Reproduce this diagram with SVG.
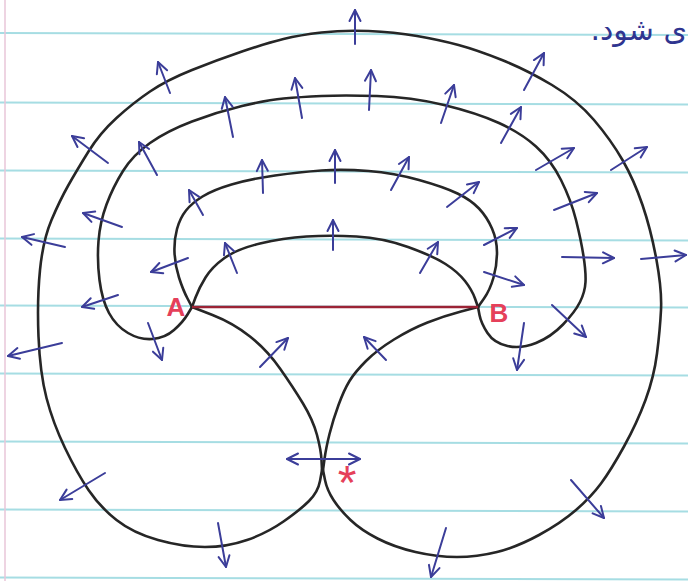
<svg xmlns="http://www.w3.org/2000/svg" width="688" height="581" viewBox="0 0 688 581">
<style>
.paper{stroke:#a6dde3;stroke-width:2;fill:none}
.curve{fill:none;stroke:#262626;stroke-width:2.6;stroke-linecap:round;stroke-linejoin:round}
.arr{fill:none;stroke:#3b3d99;stroke-width:2;stroke-linecap:round;marker-end:url(#ah)}
.lbl{font-family:"Liberation Sans",Arial,sans-serif;fill:#e5405a;font-weight:bold}
</style>
<defs>
<marker id="ah" viewBox="-12 -8 14 16" refX="0" refY="0" markerWidth="14" markerHeight="16" markerUnits="userSpaceOnUse" orient="auto-start-reverse" overflow="visible">
<path d="M-11,-5.5 L0,0 L-11,5.5" fill="none" stroke="#3b3d99" stroke-width="2" stroke-linecap="round" stroke-linejoin="round"/>
</marker>
</defs>
<rect width="688" height="581" fill="#ffffff"/>
<g id="paper">
<line class="paper" x1="0" y1="33" x2="688" y2="35"/>
<line class="paper" x1="0" y1="102.5" x2="688" y2="104.5"/>
<line class="paper" x1="0" y1="170.5" x2="688" y2="172.5"/>
<line class="paper" x1="0" y1="238.5" x2="688" y2="240.5"/>
<line class="paper" x1="0" y1="305.5" x2="688" y2="307.5"/>
<line class="paper" x1="0" y1="373.5" x2="688" y2="375.5"/>
<line class="paper" x1="0" y1="441.5" x2="688" y2="443.5"/>
<line class="paper" x1="0" y1="509.5" x2="688" y2="511.5"/>
<line class="paper" x1="0" y1="577.5" x2="688" y2="579.5"/>
<line x1="5" y1="0" x2="5" y2="581" stroke="#e8c6d8" stroke-width="1.5"/>
</g>
<g id="curves">
<path id="outer" class="curve" d="M322,470 L320,481 Q318,492 309,501 Q300,510 283.5,521.5 Q267,533 247,540 Q227,547 205,547 Q183,547 158,540 Q133,533 116.5,520 Q100,507 88.5,490 Q77,473 65,448 Q53,423 46.5,398 Q40,373 38.5,336.5 Q37,300 40,270 Q43,240 51.5,220 Q60,200 68.5,185 Q77,170 88.5,151.5 Q100,133 116.5,118 Q133,103 150,91.5 Q167,80 192,70 Q217,60 242,51.5 Q267,43 283.5,39 Q300,35 321.5,32.5 Q343,30 368.5,31 Q394,32 417,36 Q440,40 458.5,45 Q477,50 502,60 Q527,70 552,85 Q577,100 594,120 Q611,140 622.5,160 Q634,180 642.5,205 Q651,230 656.5,260 Q662,290 661,310 Q660,330 657,353.5 Q654,377 645.5,400 Q637,423 624,446.5 Q611,470 601,483.5 Q591,497 576,510 Q561,523 539,535 Q517,547 497,552 Q477,557 457,557 Q437,557 415.5,552 Q394,547 377.5,538.5 Q361,530 350.5,520 Q340,510 333.5,500 Q327,490 325,480 L323,470"/>
<path id="lobe-left" class="curve" d="M192,307 L212.5,315 Q233,323 250,336.5 Q267,350 280,368.5 Q293,387 303,403.5 Q313,420 317,435 Q321,450 321.5,460 L322,470"/>
<path id="lobe-right" class="curve" d="M478,307 L461,311.5 Q444,316 427.5,322.5 Q411,329 394,339.5 Q377,350 366,361 Q355,372 349.5,381 Q344,390 338.5,405 Q333,420 329.5,434 Q326,448 324.5,459 L323,470"/>
<path id="curve2" class="curve" d="M192,307 L187.5,298.5 Q183,290 179,277.5 Q175,265 174.5,252.5 Q174,240 177,229 Q180,218 186,210.5 Q192,203 202.5,196.5 Q213,190 231.5,184.5 Q250,179 275,175.5 Q300,172 321.5,170.5 Q343,169 368.5,171 Q394,173 419,180 Q444,187 457.5,193.5 Q471,200 479,208.5 Q487,217 492,228.5 Q497,240 497,252.5 Q497,265 493.5,277.5 Q490,290 484,298.5 L478,307"/>
<path id="curve1" class="curve" d="M192,307 L195.5,297.5 Q199,288 205.5,277.5 Q212,267 224.5,258 Q237,249 260,243.5 Q283,238 306.5,236.5 Q330,235 356.5,236.5 Q383,238 408,247 Q433,256 445.5,264 Q458,272 465,281 Q472,290 475,298.5 L478,307"/>
<path id="curve3" class="curve" d="M192,307 L187.5,314.5 Q183,322 174,330 Q165,338 152.5,339 Q140,340 128,333 Q116,326 109,313 Q102,300 99.5,280 Q97,260 98.5,241 Q100,222 106.5,204.5 Q113,187 123,171 Q133,155 150,143 Q167,131 192,121.5 Q217,112 242,106 Q267,100 283.5,98.5 Q300,97 321.5,96 Q343,95 377,96 Q411,97 444,105 Q477,113 499,123 Q521,133 536,146.5 Q551,160 561,180 Q571,200 576,220 Q581,240 583.5,256 Q586,272 585.5,282 Q585,292 580,302 Q575,312 563,324.5 Q551,337 536,343 Q521,349 507.5,346 Q494,343 487.5,333 Q481,323 479.5,315 L478,307"/>
<line id="AB" x1="192" y1="307" x2="478" y2="307" stroke="#9b2335" stroke-width="2.4"/>
</g>
<g id="arrows">
<line class="arr" x1="355" y1="44" x2="355" y2="10"/>
<line class="arr" x1="170" y1="93" x2="158" y2="62"/>
<line class="arr" x1="108" y1="163" x2="72" y2="136"/>
<line class="arr" x1="65" y1="247" x2="22" y2="237"/>
<line class="arr" x1="62" y1="343" x2="8" y2="356"/>
<line class="arr" x1="105" y1="473" x2="60" y2="500"/>
<line class="arr" x1="218" y1="523" x2="226" y2="567"/>
<line class="arr" x1="446" y1="528" x2="431" y2="577"/>
<line class="arr" x1="571" y1="480" x2="604" y2="518"/>
<line class="arr" x1="641" y1="259" x2="686" y2="255"/>
<line class="arr" x1="611" y1="170" x2="647" y2="147"/>
<line class="arr" x1="524" y1="90" x2="544" y2="53"/>
<line class="arr" x1="369" y1="110" x2="371" y2="70"/>
<line class="arr" x1="441" y1="123" x2="454" y2="85"/>
<line class="arr" x1="501" y1="143" x2="521" y2="107"/>
<line class="arr" x1="536" y1="170" x2="574" y2="148"/>
<line class="arr" x1="554" y1="210" x2="597" y2="193"/>
<line class="arr" x1="562" y1="257" x2="614" y2="258"/>
<line class="arr" x1="302" y1="118" x2="295" y2="78"/>
<line class="arr" x1="233" y1="137" x2="225" y2="97"/>
<line class="arr" x1="157" y1="175" x2="139" y2="142"/>
<line class="arr" x1="122" y1="227" x2="83" y2="213"/>
<line class="arr" x1="118" y1="295" x2="82" y2="307"/>
<line class="arr" x1="148" y1="323" x2="162" y2="360"/>
<line class="arr" x1="524" y1="323" x2="517" y2="370"/>
<line class="arr" x1="552" y1="305" x2="586" y2="337"/>
<line class="arr" x1="335" y1="183" x2="335" y2="150"/>
<line class="arr" x1="263" y1="193" x2="262" y2="160"/>
<line class="arr" x1="203" y1="215" x2="189" y2="190"/>
<line class="arr" x1="188" y1="258" x2="151" y2="272"/>
<line class="arr" x1="391" y1="190" x2="409" y2="157"/>
<line class="arr" x1="447" y1="207" x2="479" y2="182"/>
<line class="arr" x1="484" y1="245" x2="517" y2="228"/>
<line class="arr" x1="484" y1="272" x2="524" y2="285"/>
<line class="arr" x1="333" y1="250" x2="333" y2="220"/>
<line class="arr" x1="237" y1="273" x2="225" y2="243"/>
<line class="arr" x1="420" y1="273" x2="438" y2="242"/>
<line class="arr" x1="260" y1="367" x2="288" y2="338"/>
<line class="arr" x1="386" y1="360" x2="364" y2="337"/>
<line class="arr" x1="287" y1="459" x2="360" y2="459" marker-start="url(#ah)"/>
</g>
<g id="labels">
<text class="lbl" x="176" y="316" font-size="26" text-anchor="middle">A</text>
<text class="lbl" x="499" y="322" font-size="26" text-anchor="middle">B</text>
<text x="347" y="499" font-family="'Liberation Sans',Arial,sans-serif" font-size="48" fill="#e5405a" text-anchor="middle">*</text>
<text x="687" y="40" direction="rtl" text-anchor="start" font-family="'DejaVu Sans','Noto Sans',sans-serif" font-size="30" fill="#2f3590">ی شود.</text>
</g>
</svg>
